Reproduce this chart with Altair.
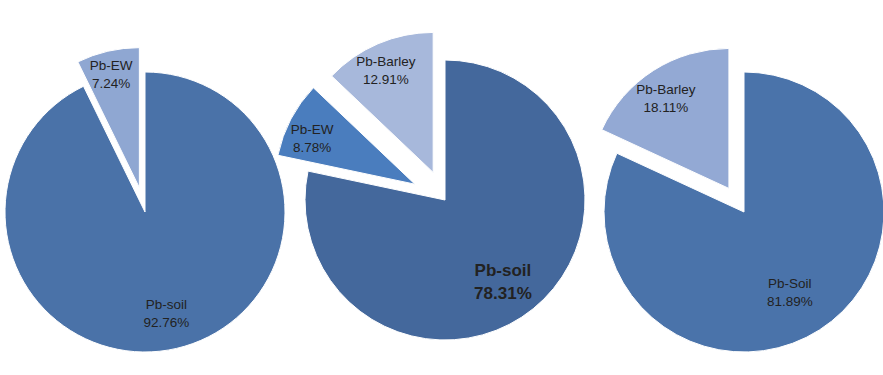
import math
import altair as alt
import pandas as pd

# ---------------- data ----------------
pie1_categories = ["Pb-soil", "Pb-EW"]
pie1_values = [92.76, 7.24]

pie2_categories = ["Pb-soil", "Pb-EW", "Pb-Barley"]
pie2_values = [78.31, 8.78, 12.91]

pie3_categories = ["Pb-Soil", "Pb-Barley"]
pie3_values = [81.89, 18.11]

# ---------------- style / layout ----------------
W, H = 883, 375
R = 140
FONT = "Liberation Sans"
TEXT_COLOR = "#222222"

pie_styles = [
    dict(cats=pie1_categories, vals=pie1_values, cx=145, cy=212,
         colors=["#4a72a8", "#8fa7d2"], explode=[0, 25], label_r=[95, 150],
         bold=[False, False]),
    dict(cats=pie2_categories, vals=pie2_values, cx=445, cy=200,
         colors=["#44689c", "#4a7dbe", "#a7b8db"], explode=[0, 34, 30],
         label_r=[92, 150, 150], bold=[True, False, False]),
    dict(cats=pie3_categories, vals=pie3_values, cx=744, cy=212,
         colors=["#4a73aa", "#93a9d4"], explode=[0, 28], label_r=[85, 145],
         bold=[False, False]),
]

all_keys, all_colors = [], []
for i, p in enumerate(pie_styles):
    for c, col in zip(p["cats"], p["colors"]):
        all_keys.append(f"{i}-{c}")
        all_colors.append(col)

color_enc = alt.Color("key:N", scale=alt.Scale(domain=all_keys, range=all_colors), legend=None)

layers = []
for i, p in enumerate(pie_styles):
    df = pd.DataFrame({
        "cat": p["cats"],
        "value": p["vals"],
        "order": list(range(len(p["cats"]))),
        "key": [f"{i}-{c}" for c in p["cats"]],
        "explode": p["explode"],
        "lr": p["label_r"],
        "bold": p["bold"],
    })
    base = alt.Chart(df).transform_window(
        cum="sum(value)", sort=[alt.SortField("order")], frame=[None, 0]
    ).transform_joinaggregate(
        total="sum(value)"
    ).transform_calculate(
        start="(datum.cum - datum.value) / datum.total",
        end="datum.cum / datum.total",
    ).transform_calculate(
        mid="(datum.start + datum.end) * PI",
    ).transform_calculate(
        ax=f"{p['cx']} + datum.explode * sin(datum.mid)",
        ay=f"{p['cy']} - datum.explode * cos(datum.mid)",
        lx=f"{p['cx']} + datum.lr * sin(datum.mid)",
        ly=f"{p['cy']} - datum.lr * cos(datum.mid)",
        label="datum.cat + '\\n' + format(datum.value, '.2f') + '%'",
    )

    arcs = base.mark_arc(outerRadius=R, stroke="white", strokeWidth=1).encode(
        theta=alt.Theta("start:Q", scale=alt.Scale(domain=[0, 1], range=[0, 2 * math.pi])),
        theta2="end:Q",
        x=alt.X("ax:Q", scale=None, axis=None),
        y=alt.Y("ay:Q", scale=None, axis=None),
        color=color_enc,
    )
    txt_normal = base.transform_filter("!datum.bold").mark_text(
        font=FONT, fontSize=13.5, lineBreak="\n", lineHeight=18,
        align="center", baseline="middle", color=TEXT_COLOR,
    ).encode(
        x=alt.X("lx:Q", scale=None, axis=None),
        y=alt.Y("ly:Q", scale=None, axis=None),
        text="label:N",
    )
    txt_bold = base.transform_filter("datum.bold").mark_text(
        font=FONT, fontSize=17, fontWeight="bold", lineBreak="\n", lineHeight=23,
        align="center", baseline="middle", color=TEXT_COLOR,
    ).encode(
        x=alt.X("lx:Q", scale=None, axis=None),
        y=alt.Y("ly:Q", scale=None, axis=None),
        text="label:N",
    )
    layers += [arcs, txt_normal, txt_bold]

chart = alt.layer(*layers).properties(
    width=W, height=H, padding=0,
    autosize=alt.AutoSizeParams(type="none"),
).configure_view(stroke=None).resolve_scale(theta="shared")

chart.save("out.html", embed_options={"renderer": "svg", "actions": False})
